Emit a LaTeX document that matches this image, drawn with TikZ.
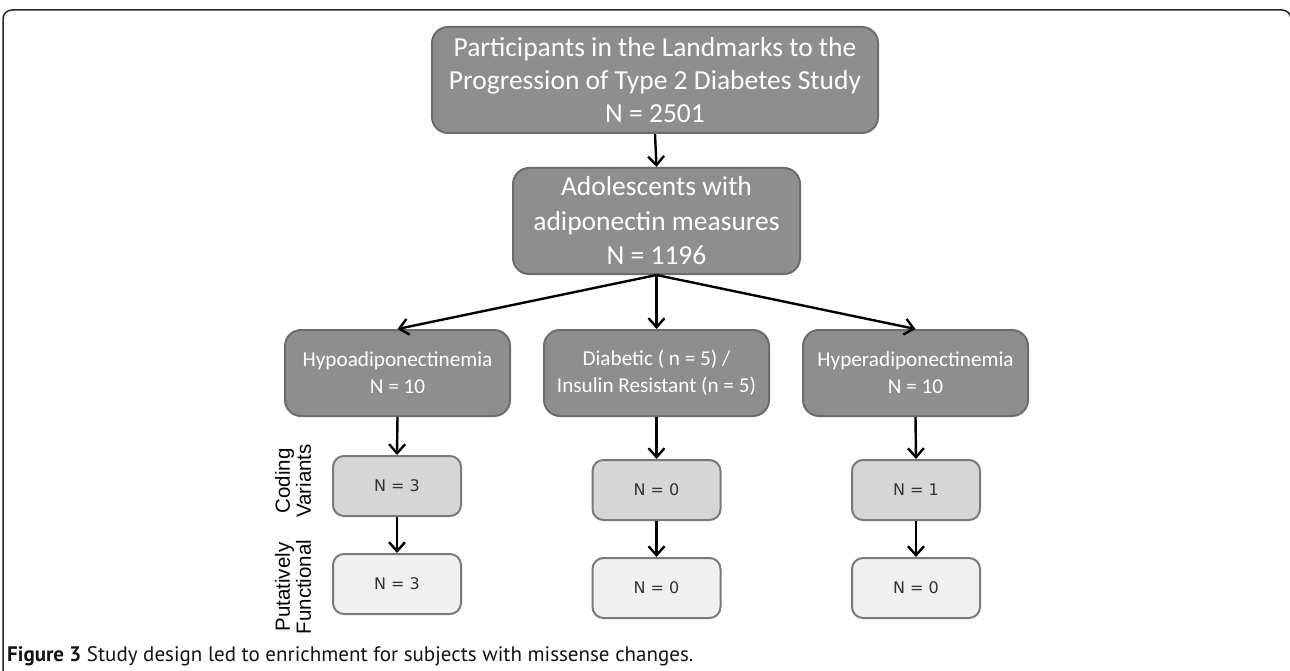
\documentclass[tikz,border=0pt]{standalone}
\usepackage{fontspec}
\usetikzlibrary{arrows.meta}
\newfontfamily\boxfont{Carlito}
\newfontfamily\smallfont{DejaVu Sans}
\newfontfamily\labfont{Liberation Sans}
\newfontfamily\capfont{PT Sans}
\definecolor{bigfill}{HTML}{8E8E8E}
\definecolor{bigedge}{HTML}{6C6C6C}
\definecolor{codefill}{HTML}{D6D6D6}
\definecolor{funcfill}{HTML}{F0F0F0}
\definecolor{smalledge}{HTML}{7A7A7A}
\definecolor{smalltext}{HTML}{333333}
\tikzset{
  bigbox/.style={draw=bigedge, fill=bigfill, line width=2pt, rounded corners=16pt,
    text=white, align=center, inner sep=0pt},
  codebox/.style={draw=smalledge, fill=codefill, line width=2pt, rounded corners=11pt,
    minimum width=128pt, minimum height=60pt, text=smalltext, inner sep=0pt,
    font=\smallfont\fontsize{16}{19}\selectfont},
  funcbox/.style={codebox, fill=funcfill},
  arr/.style={line width=2.4pt, -{Straight Barb[length=9pt,width=16pt]}},
  sidelab/.style={rotate=90, align=center, font=\labfont\fontsize{20.5}{21}\selectfont, text=black},
}
\begin{document}
\begin{tikzpicture}[x=1pt,y=-1pt]
\useasboundingbox (0,0) rectangle (1290,671);
% frame
\draw[line width=1.5pt, color=black!85, rounded corners=9pt] (3,680) -- (3,10) -- (1291,10) -- (1291,680);
% main boxes
\node[bigbox, minimum width=446pt, minimum height=106pt,
  font=\boxfont\fontsize{27.5}{33}\selectfont] (top) at (655,80)
  {Participants in the Landmarks to the\\Progression of Type 2 Diabetes Study\\N = 2501};
\node[bigbox, minimum width=287pt, minimum height=106pt,
  font=\boxfont\fontsize{27.5}{34.5}\selectfont] (adol) at (656.5,221)
  {Adolescents with\\adiponectin measures\\N = 1196};
\node[bigbox, minimum width=225pt, minimum height=86pt,
  font=\boxfont\fontsize{21.2}{27}\selectfont] (hypo) at (397.5,373)
  {Hypoadiponectinemia\\N = 10};
\node[bigbox, minimum width=225pt, minimum height=86pt,
  font=\boxfont\fontsize{21.2}{27}\selectfont] (diab) at (656.5,373)
  {Diabetic ( n = 5) /\\Insulin Resistant (n = 5)};
\node[bigbox, minimum width=225pt, minimum height=86pt,
  font=\boxfont\fontsize{21.2}{27}\selectfont] (hyper) at (915.5,373)
  {Hyperadiponectinemia\\N = 10};
% small boxes
\node[codebox] (c1) at (397,486) {N = 3};
\node[funcbox] (f1) at (397,584) {N = 3};
\node[codebox] (c2) at (656.5,490) {N = 0};
\node[funcbox] (f2) at (656.5,588) {N = 0};
\node[codebox] (c3) at (916,490) {N = 1};
\node[funcbox] (f3) at (916,588) {N = 0};
% side labels
\node[sidelab] (lcode) at (293,481) {Coding\\Variants};
\node[sidelab] (lfunc) at (293,587) {Putatively\\Functional};
% arrows
\draw[arr] (top.south) -- (adol.north);
\draw[arr] (adol.south) -- (hypo.north);
\draw[arr] (adol.south) -- (diab.north);
\draw[arr] (adol.south) -- (hyper.north);
\draw[arr] (hypo.south) -- (c1.north);
\draw[arr] (c1.south) -- (f1.north);
\draw[arr] (diab.south) -- (c2.north);
\draw[arr] (c2.south) -- (f2.north);
\draw[arr] (hyper.south) -- (c3.north);
\draw[arr] (c3.south) -- (f3.north);
% caption
\node[anchor=base west, inner sep=0pt, text=black!92,
  font=\capfont\fontsize{21}{23}\selectfont] (cap) at (7,661)
  {\textbf{Figure 3} Study design led to enrichment for subjects with missense changes.};
\end{tikzpicture}
\end{document}
